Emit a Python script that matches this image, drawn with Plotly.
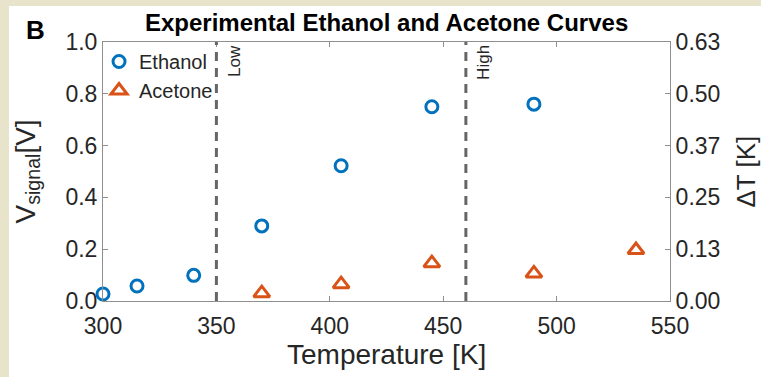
import plotly.graph_objects as go

# ---- data ----
eth_T = [300, 315, 340, 370, 405, 445, 490]
eth_V = [0.027, 0.058, 0.099, 0.29, 0.522, 0.75, 0.76]
ace_T = [370, 405, 445, 490, 535]
ace_dT = [0.019, 0.041, 0.092, 0.067, 0.124]
x_ticks = [300, 350, 400, 450, 500, 550]
y_ticks = [0.0, 0.2, 0.4, 0.6, 0.8, 1.0]
y2_ticks = [0.0, 0.126, 0.252, 0.378, 0.504, 0.63]
y2_labels = ["0.00", "0.13", "0.25", "0.37", "0.50", "0.63"]
lines_T = [350, 460]
lines_lbl = ["Low", "High"]

W, H = 761, 377
L, R, T, B = 103, 91, 42, 76
pw, ph = W - L - R, H - T - B

BLUE = "#0072BD"
ORANGE = "#D95319"
TXT = "#262626"
AX = "#8f8f8f"
FONT = "Liberation Sans, Arial, sans-serif"

fig = go.Figure()
fig.add_trace(go.Scatter(x=eth_T, y=eth_V, mode="markers", name="Ethanol",
                         marker=dict(symbol="circle-open", size=12, color=BLUE,
                                     line=dict(width=3, color=BLUE)),
                         cliponaxis=False))
fig.add_trace(go.Scatter(x=ace_T, y=ace_dT, mode="markers", name="Acetone", yaxis="y2",
                         marker=dict(symbol="triangle-up-open", size=14, color=ORANGE,
                                     line=dict(width=3, color=ORANGE)),
                         cliponaxis=False))

shapes = [dict(type="rect", xref="paper", yref="paper", layer="below",
               x0=(9 - L) / pw, x1=(W + 5 - L) / pw,
               y0=(T + ph - (H + 5)) / ph, y1=(T + ph - 6) / ph,
               fillcolor="white", line=dict(width=0))]
annotations = []
for xv, lb in zip(lines_T, lines_lbl):
    shapes.append(dict(type="line", xref="x", yref="paper", x0=xv, x1=xv, y0=0, y1=1,
                       line=dict(color="#666666", width=3, dash="9px,7px")))
    annotations.append(dict(x=xv, y=1, xref="x", yref="paper", text=lb, textangle=-90,
                            showarrow=False, xanchor="left", yanchor="top",
                            xshift=6, yshift=-1,
                            font=dict(family=FONT, size=17, color=TXT)))

annotations += [
    dict(x=0.5, y=(T + ph - 23) / ph, xref="paper", yref="paper",
         text="<b>Experimental Ethanol and Acetone Curves</b>", showarrow=False,
         font=dict(family=FONT, size=24, color="black"), xanchor="center", yanchor="middle"),
    dict(x=(35 - L) / pw, y=(T + ph - 30) / ph, xref="paper", yref="paper",
         text="<b>B</b>", showarrow=False,
         font=dict(family=FONT, size=26, color="black"), xanchor="center", yanchor="middle"),
    dict(x=(27 - L) / pw, y=0.5, xref="paper", yref="paper", textangle=-90,
         text="V<sub>signal</sub>[V]", showarrow=False,
         font=dict(family=FONT, size=28, color=TXT), xanchor="center", yanchor="middle"),
    dict(x=(745 - L) / pw, y=0.5, xref="paper", yref="paper", textangle=-90,
         text="ΔT [K]", showarrow=False,
         font=dict(family=FONT, size=26, color=TXT), xanchor="center", yanchor="middle"),
    dict(x=0.5, y=(T + ph - 354) / ph, xref="paper", yref="paper",
         text="Temperature [K]", showarrow=False,
         font=dict(family=FONT, size=28, color=TXT), xanchor="center", yanchor="middle"),
]

axcommon = dict(showgrid=False, zeroline=False, showline=True, linecolor=AX, linewidth=1,
                ticks="inside", ticklen=5, tickcolor=AX,
                tickfont=dict(family=FONT, size=23, color=TXT))

fig.update_layout(
    width=W, height=H, margin=dict(l=L, r=R, t=T, b=B, autoexpand=False),
    paper_bgcolor="#e8e4cc", plot_bgcolor="white",
    showlegend=True,
    legend=dict(x=-0.007, y=1.0, xanchor="left", yanchor="top", bgcolor="rgba(0,0,0,0)",
                font=dict(family=FONT, size=20, color=TXT), itemwidth=30,
                tracegroupgap=0),
    xaxis=dict(range=[300, 550], tickvals=x_ticks, mirror="ticks", ticklabelstandoff=4,
               **axcommon),
    yaxis=dict(range=[0, 1], tickvals=y_ticks, tickformat=".1f", **axcommon),
    yaxis2=dict(range=[0, 0.63], tickvals=y2_ticks, ticktext=y2_labels, overlaying="y",
                side="right", **axcommon),
    shapes=shapes, annotations=annotations,
)

fig.write_html("out.html")
